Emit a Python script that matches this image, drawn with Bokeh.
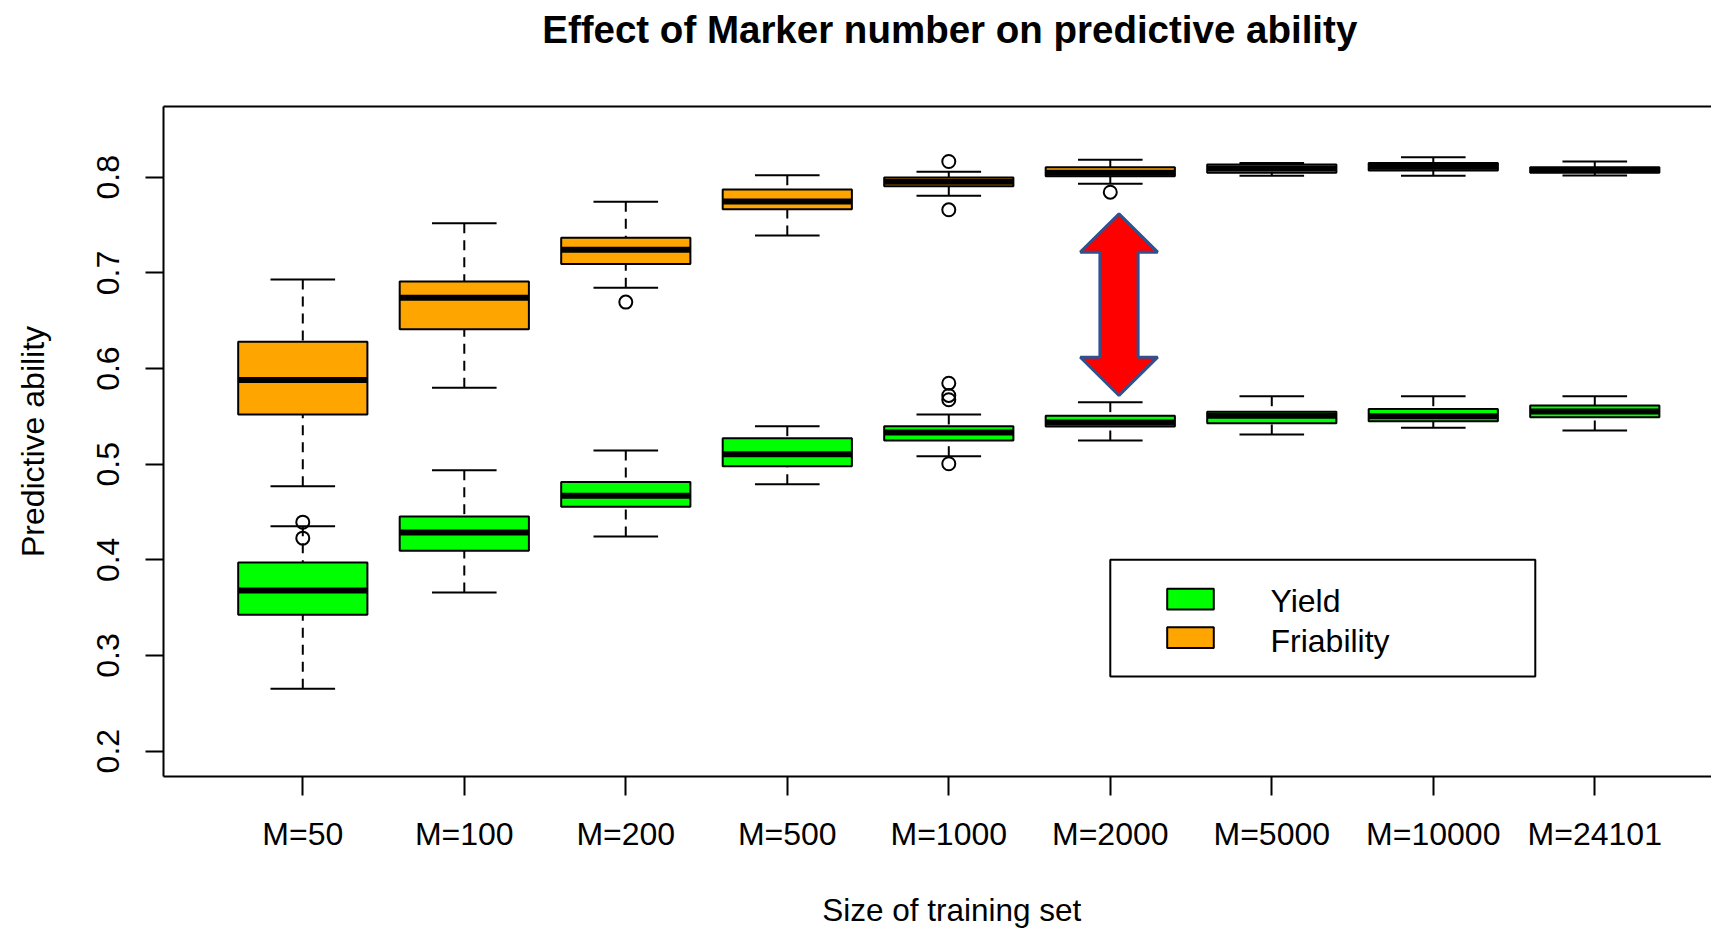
from bokeh.plotting import figure
from bokeh.models import Range1d, FixedTicker, BoxAnnotation, Label, ColumnDataSource, LinearAxis, Title
from bokeh.embed import file_html
from bokeh.resources import INLINE

# ---------------- data ----------------
CATEGORIES = ["M=50", "M=100", "M=200", "M=500", "M=1000",
              "M=2000", "M=5000", "M=10000", "M=24101"]

FRI_LOW = [0.477, 0.580, 0.6845, 0.7390, 0.7807, 0.7932, 0.8016, 0.8016, 0.8019]
FRI_Q1  = [0.552, 0.641, 0.7092, 0.7665, 0.7907, 0.8012, 0.8047, 0.8071, 0.8047]
FRI_MED = [0.588, 0.674, 0.7242, 0.7747, 0.7953, 0.8047, 0.8092, 0.8110, 0.8076]
FRI_Q3  = [0.628, 0.691, 0.7367, 0.7872, 0.7998, 0.8106, 0.8134, 0.8148, 0.8106]
FRI_UP  = [0.693, 0.752, 0.7744, 0.8021, 0.8057, 0.8183, 0.8148, 0.8210, 0.8165]
FRI_OUT_CAT = ["M=200", "M=1000", "M=1000", "M=2000"]
FRI_OUT_VAL = [0.6695, 0.8165, 0.7660, 0.7844]

YLD_LOW = [0.2652, 0.3659, 0.4245, 0.4791, 0.5084, 0.5248, 0.5311, 0.5381, 0.5353]
YLD_Q1  = [0.3426, 0.4095, 0.4555, 0.4980, 0.5248, 0.5395, 0.5429, 0.5450, 0.5492]
YLD_MED = [0.3680, 0.4286, 0.4670, 0.5105, 0.5332, 0.5437, 0.5506, 0.5502, 0.5551]
YLD_Q3  = [0.3973, 0.4454, 0.4813, 0.5272, 0.5398, 0.5506, 0.5548, 0.5576, 0.5614]
YLD_UP  = [0.4352, 0.4938, 0.5144, 0.5398, 0.5520, 0.5649, 0.5711, 0.5711, 0.5711]
YLD_OUT_CAT = ["M=50", "M=50", "M=1000", "M=1000", "M=1000", "M=1000"]
YLD_OUT_VAL = [0.4394, 0.4227, 0.5847, 0.5719, 0.5674, 0.5005]

Y_TICKS = [0.2, 0.3, 0.4, 0.5, 0.6, 0.7, 0.8]
Y_TICK_LABELS = ["0.2", "0.3", "0.4", "0.5", "0.6", "0.7", "0.8"]

SERIES_NAMES = ["Yield", "Friability"]
GREEN = "#00FF00"
ORANGE = "#FFA500"

TITLE = "Effect of Marker number on predictive ability"
XLABEL = "Size of training set"
YLABEL = "Predictive ability"

# ---------------- layout ----------------
FONT = "Liberation Sans"
W, H = 1711, 930
ML, MR, MT, MB = 163, 0, 106, 154
FRAME_W = W - ML - MR
FRAME_H = H - MT - MB
X0, X1 = 0.1375, 9.7227
Y0, Y1 = 0.1735, 0.874
XPU = FRAME_W / (X1 - X0)
YPU = FRAME_H / (Y1 - Y0)

BOX_HALF = 0.4
CAP_HALF = 0.2

POS = list(range(1, len(CATEGORIES) + 1))
cat_pos = {c: i + 1 for i, c in enumerate(CATEGORIES)}

p = figure(width=W, height=H, x_range=Range1d(X0, X1), y_range=Range1d(Y0, Y1),
           output_backend="svg", toolbar_location=None,
           min_border_left=ML, min_border_right=MR, min_border_top=MT, min_border_bottom=MB)
p.outline_line_color = None
p.grid.visible = False
p.background_fill_color = "white"
p.border_fill_color = "white"

# axes
xa = p.xaxis[0]
xa.ticker = FixedTicker(ticks=POS)
xa.major_label_overrides = {i + 1: c for i, c in enumerate(CATEGORIES)}
xa.major_tick_out = 19
xa.major_tick_in = 0
xa.minor_tick_out = 0
xa.minor_tick_in = 0
xa.major_label_standoff = 20
xa.axis_line_width = 2
xa.major_tick_line_width = 2
xa.major_label_text_font = FONT
xa.major_label_text_font_size = "32px"
xa.major_label_text_color = "black"

ya = p.yaxis[0]
ya.ticker = FixedTicker(ticks=Y_TICKS)
ya.major_label_overrides = {t: l for t, l in zip(Y_TICKS, Y_TICK_LABELS)}
ya.major_label_orientation = "vertical"
ya.major_tick_out = 18
ya.major_tick_in = 0
ya.minor_tick_out = 0
ya.minor_tick_in = 0
ya.major_label_standoff = 26
ya.axis_line_width = 2
ya.major_tick_line_width = 2
ya.major_label_text_font = FONT
ya.major_label_text_font_size = "32px"
ya.major_label_text_color = "black"
ya.axis_label = YLABEL
ya.axis_label_text_font = FONT
ya.axis_label_text_font_size = "32px"
ya.axis_label_text_font_style = "normal"
ya.axis_label_text_color = "black"
ya.axis_label_standoff = 44


def spacer_axis(gap, line_width, line_color):
    """An axis with one invisible tick whose length sets the gap to the next panel."""
    return LinearAxis(ticker=FixedTicker(ticks=[POS[0]]),
                      major_label_overrides={POS[0]: ""},
                      major_label_text_font_size="0px", major_label_standoff=0,
                      major_tick_out=gap, major_tick_in=0, major_tick_line_color=None,
                      minor_tick_out=0, minor_tick_in=0,
                      axis_line_width=line_width, axis_line_color=line_color)


# top border line (R box; its right side lies outside the picture) + gap to the title
p.add_layout(spacer_axis(56, 2, "black"), "above")

# title, left-aligned with an offset so it is centred on R's full plot region
p.title.text = TITLE
p.title.align = "left"
p.title.offset = 541.7 - ML
p.title.standoff = 0
p.title.text_font = FONT
p.title.text_font_size = "38.5px"
p.title.text_font_style = "bold"
p.title.text_color = "black"

# x label: spacer then a bottom title
p.add_layout(spacer_axis(35, 1, None), "below")
p.add_layout(Title(text=XLABEL, align="left", offset=821.7 - ML, standoff=0,
                   text_font=FONT, text_font_size="31.5px", text_font_style="normal",
                   text_color="black"), "below")


def draw_series(low, q1, med, q3, up, color, out_cat, out_val):
    src = ColumnDataSource(dict(
        x=POS, low=low, q1=q1, med=med, q3=q3, up=up,
        bl=[x - BOX_HALF for x in POS], br=[x + BOX_HALF for x in POS],
        cl=[x - CAP_HALF for x in POS], cr=[x + CAP_HALF for x in POS],
    ))
    p.segment(x0="x", y0="up", x1="x", y1="q3", source=src,
              line_color="black", line_width=2, line_dash="10 7")
    p.segment(x0="x", y0="low", x1="x", y1="q1", source=src,
              line_color="black", line_width=2, line_dash="10 7")
    p.segment(x0="cl", y0="up", x1="cr", y1="up", source=src, line_color="black", line_width=2)
    p.segment(x0="cl", y0="low", x1="cr", y1="low", source=src, line_color="black", line_width=2)
    p.quad(left="bl", right="br", bottom="q1", top="q3", source=src,
           fill_color=color, line_color="black", line_width=2)
    p.segment(x0="bl", y0="med", x1="br", y1="med", source=src,
              line_color="black", line_width=6)
    p.scatter(x=[cat_pos[c] for c in out_cat], y=out_val, marker="circle", size=13,
              fill_color=None, line_color="black", line_width=2)


draw_series(FRI_LOW, FRI_Q1, FRI_MED, FRI_Q3, FRI_UP, ORANGE, FRI_OUT_CAT, FRI_OUT_VAL)
draw_series(YLD_LOW, YLD_Q1, YLD_MED, YLD_Q3, YLD_UP, GREEN, YLD_OUT_CAT, YLD_OUT_VAL)

# red double arrow annotation between the two series at M=2000
AX = 6.054
A_HEAD = 38.7 / XPU
A_SHAFT = 19.1 / XPU
A_TOP, A_HTOP, A_HBOT, A_BOT = 0.7618, 0.7217, 0.6119, 0.5719
p.patch(x=[AX, AX + A_HEAD, AX + A_SHAFT, AX + A_SHAFT, AX + A_HEAD, AX,
           AX - A_HEAD, AX - A_SHAFT, AX - A_SHAFT, AX - A_HEAD],
        y=[A_TOP, A_HTOP, A_HTOP, A_HBOT, A_HBOT, A_BOT, A_HBOT, A_HBOT, A_HTOP, A_HTOP],
        fill_color="red", line_color="#2F528F", line_width=3)

# legend (R legend anchored at x=6, y=0.4)
LEG_X, LEG_Y = 6.0, 0.4
LEG_W, LEG_H = 425.0, 116.6
p.add_layout(BoxAnnotation(left=LEG_X, right=LEG_X + LEG_W / XPU,
                           top=LEG_Y, bottom=LEG_Y - LEG_H / YPU,
                           fill_color=None, line_color="black", line_width=2, line_alpha=1))
KEY_DX, KEY_DY = 80.2, [39.3, 77.8]
TXT_DX, TXT_DY = 160.2, [41.6, 81.0]
p.rect(x=[LEG_X + KEY_DX / XPU] * 2, y=[LEG_Y - d / YPU for d in KEY_DY],
       width=46.6, height=20.7, width_units="screen", height_units="screen",
       fill_color=[GREEN, ORANGE], line_color="black", line_width=2)
for name, d in zip(SERIES_NAMES, TXT_DY):
    p.add_layout(Label(x=LEG_X + TXT_DX / XPU, y=LEG_Y - d / YPU, text=name,
                       text_font=FONT, text_font_size="32px", text_color="black",
                       text_align="left", text_baseline="middle"))

open("out.html", "w").write(file_html(p, INLINE))
